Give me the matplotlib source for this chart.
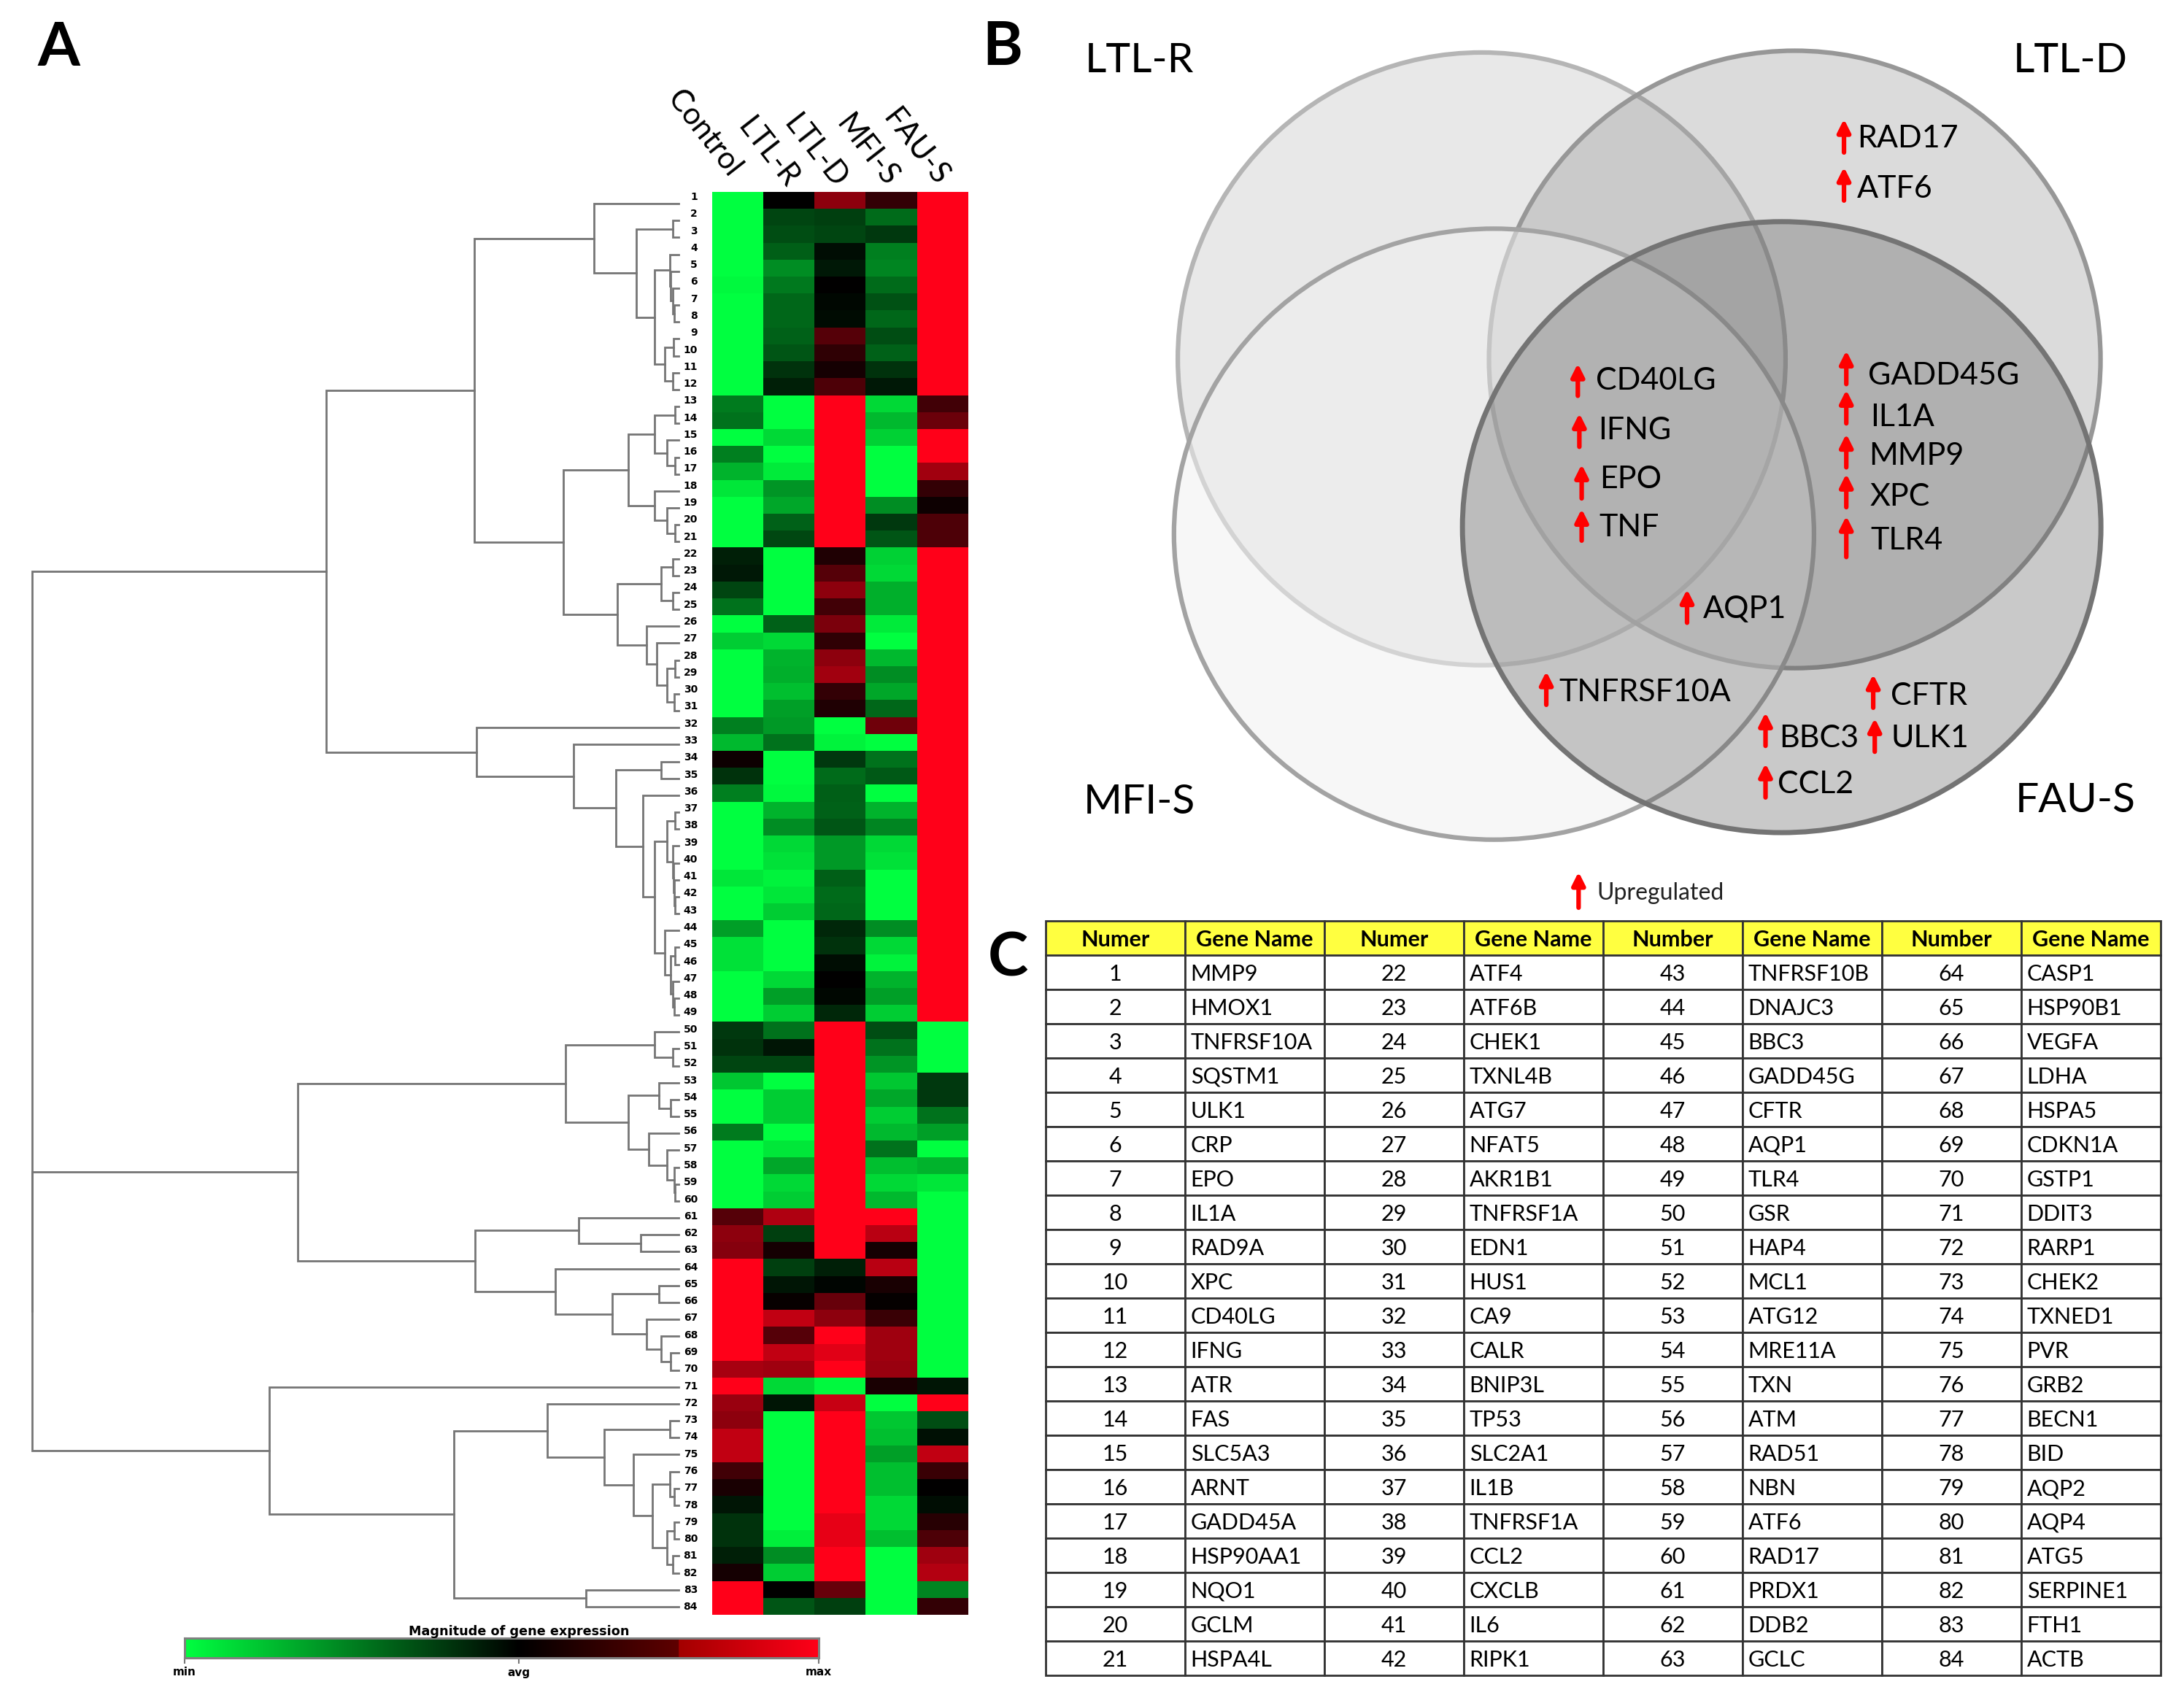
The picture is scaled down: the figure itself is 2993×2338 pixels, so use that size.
#!/usr/bin/env python3

import matplotlib
matplotlib.use("Agg")
import matplotlib.pyplot as plt
from matplotlib.colors import LinearSegmentedColormap
from matplotlib.patches import Ellipse
from matplotlib.table import Table
import numpy as np

plt.rcParams["font.family"] = ["Lato", "DejaVu Sans"]

W, H = 2993, 2338

# panel A, expression per gene (-1 = min, 0 = avg, 1 = max)
sample_names = ["Control", "LTL-R", "LTL-D", "MFI-S", "FAU-S"]
control = [-1, -1, -1, -1, -1, -.97, -1, -1, -1, -1, -1, -1,
           -.48, -.45, -1, -.5, -.7, -.9, -1, -1, -1, -.12, -.1,
           -.27, -.45, -1, -.8, -1, -1, -1, -1,
           -.5, -.72, .05, -.2, -.5, -1, -1, -1, -1, -.9, -1, -1, -.62, -.88, -.88, -1,
           -1, -1, -.22, -.2, -.27, -.78, -1, -1, -.48, -1, -1, -1, -1,
           .33, .55, .52, 1, 1, 1, 1, 1, 1, .65,
           1, .6, .55, .75, .75, .25, .1, -.08, -.2, -.2, -.12, .08, 1, 1]
ltl_r = [0, -.27, -.3, -.37, -.55, -.47, -.4, -.4, -.38, -.33, -.2, -.12,
         -1, -1, -.85, -1, -.92, -.58, -.65, -.38, -.28, -1, -1,
         -1, -1, -.38, -.85, -.7, -.68, -.75, -.62,
         -.6, -.45, -1, -1, -.97, -.7, -.55, -.85, -.88, -.95, -.9, -.8, -1, -1, -1, -.85,
         -.62, -.8, -.45, -.08, -.27, -1, -.8, -.8, -1, -.9, -.65, -.85, -.8,
         .68, -.25, .08, -.25, -.08, .03, .75, .33, .75, .62,
         -.85, -.08, -1, -1, -1, -1, -1, -1, -1, -.93, -.55, -.8, 0, -.33]
ltl_d = [.55, -.25, -.27, -.05, -.1, 0, -.03, -.04, .33, .18, .08, .3,
         1, 1, 1, 1, 1, 1, 1, 1, 1, .12, .33,
         .55, .25, .48, .18, .55, .63, .2, .12,
         -1, -.95, -.22, -.42, -.37, -.38, -.33, -.6, -.6, -.37, -.42, -.4, -.15, -.2, -.05, 0,
         -.03, -.15, 1, 1, 1, 1, 1, 1, 1, 1, 1, 1, 1,
         1, 1, 1, -.12, -.02, .4, .55, 1, .88, 1,
         -.97, .78, 1, 1, 1, 1, 1, 1, .9, .9, 1, 1, .4, -.25]
mfi_s = [.2, -.42, -.22, -.5, -.52, -.42, -.32, -.4, -.3, -.38, -.2, -.1,
         -.85, -.72, -.82, -1, -1, -1, -.55, -.22, -.33, -.82, -.85,
         -.68, -.68, -.92, -1, -.72, -.55, -.65, -.4,
         .43, -1, -.45, -.35, -1, -.7, -.52, -.85, -.88, -1, -1, -1, -.55, -.85, -.95, -.7,
         -.62, -.8, -.3, -.45, -.58, -.78, -.65, -.8, -.72, -.45, -.75, -.85, -.72,
         1, .72, .08, .72, .1, .02, .22, .62, .62, .6,
         .1, -1, -.78, -.75, -.62, -.75, -.75, -.85, -.85, -.75, -1, -1, -1, -1]
fau_s = [1, 1, 1, 1, 1, 1, 1, 1, 1, 1, 1, 1,
         .25, .42, 1, 1, .63, .2, .05, .3, .3, 1, 1,
         1, 1, 1, 1, 1, 1, 1, 1,
         1, 1, 1, 1, 1, 1, 1, 1, 1, 1, 1, 1, 1, 1, 1, 1,
         1, 1, -1, -1, -1, -.22, -.22, -.45, -.62, -1, -.7, -.9, -1,
         -1, -1, -1, -1, -1, -1, -1, -1, -1, -1,
         -.08, 1, -.3, -.07, .75, .22, 0, -.05, .15, .3, .62, .7, -.52, .2]

# dendrogram: (merge height, left, right), ints are gene numbers
group_a = (483,
           (280,
            (116, 1, (58, (8, 2, 3),
                      (33, (12, 4, (11, 5, (8, 6, (6, 7, 8)))),
                       (19, (7, 9, 10), (8, 11, 12))))),
            (158,
             (69,
              (33, (5, 13, 14), (16, 15, (5, 16, 17))),
              (33, 18, (16, 19, (5, 20, 21)))),
             (84,
              (24, (8, 22, 23), (8, 24, 25)),
              (44, 26, (30, 27, (16, (5, 28, 29), (6, 30, 31))))))),
           (277, 32,
            (144, 33,
             (86, (24, 34, 35),
              (49, 36,
               (33,
                (16, (5, 37, 38), (8, 39, (7, 40, (6, 41, (5, 42, 43))))),
                (19, 44, (11, (5, 45, 46), (8, 47, (6, 48, 49))))))))))
group_b = (522,
           (155,
            (33, 50, (8, 51, 52)),
            (69,
             (27, 53, (11, 54, 55)),
             (41, 56, (16, 57, (6, 58, (5, 59, 60)))))),
           (279,
            (137, 61, (52, 62, 63)),
            (169, 64,
             (91, (27, 65, 66),
              (44, 67, (24, 68, (11, 69, 70)))))))
group_c = (561, 71,
           (308,
            (180, 72,
             (102, (12, 73, 74),
              (62, 75,
               (36,
                (12, 76, (6, 77, 78)),
                (16, (6, 79, 80), (8, 81, 82)))))),
            (127, 83, 84)))
dendro_tree = (886, group_a, (886, group_b, group_c))

# panel B
venn_sets = ["LTL-R", "LTL-D", "MFI-S", "FAU-S"]
venn_genes = ["RAD17", "ATF6", "CD40LG", "IFNG", "EPO", "TNF", "GADD45G", "IL1A", "MMP9",
              "XPC", "TLR4", "AQP1", "TNFRSF10A", "CFTR", "BBC3", "ULK1", "CCL2"]

# panel C
table_head = ["Numer", "Gene Name", "Numer", "Gene Name", "Number", "Gene Name", "Number", "Gene Name"]
genes_1 = ["MMP9", "HMOX1", "TNFRSF10A", "SQSTM1", "ULK1", "CRP", "EPO", "IL1A", "RAD9A", "XPC", "CD40LG",
           "IFNG", "ATR", "FAS", "SLC5A3", "ARNT", "GADD45A", "HSP90AA1", "NQO1", "GCLM", "HSPA4L"]
genes_2 = ["ATF4", "ATF6B", "CHEK1", "TXNL4B", "ATG7", "NFAT5", "AKR1B1", "TNFRSF1A", "EDN1", "HUS1", "CA9",
           "CALR", "BNIP3L", "TP53", "SLC2A1", "IL1B", "TNFRSF1A", "CCL2", "CXCLB", "IL6", "RIPK1"]
genes_3 = ["TNFRSF10B", "DNAJC3", "BBC3", "GADD45G", "CFTR", "AQP1", "TLR4", "GSR", "HAP4", "MCL1", "ATG12",
           "MRE11A", "TXN", "ATM", "RAD51", "NBN", "ATF6", "RAD17", "PRDX1", "DDB2", "GCLC"]
genes_4 = ["CASP1", "HSP90B1", "VEGFA", "LDHA", "HSPA5", "CDKN1A", "GSTP1", "DDIT3", "RARP1", "CHEK2", "TXNED1",
           "PVR", "GRB2", "BECN1", "BID", "AQP2", "AQP4", "ATG5", "SERPINE1", "FTH1", "ACTB"]

# layout, pixels of the venn crop
set_label_xy = [(210, 98), (1420, 98), (210, 1362), (1427, 1360)]
venn_shapes = [((655, 612), 790, 1045), ((1062, 613), 795, 1053), ((671, 911), 832, 1042), ((1045, 899), 830, 1042)]
venn_faces = [(.55, .55, .55, .2), (.45, .45, .45, .25), (.94, .94, .94, .52), (.31, .31, .31, .3)]
venn_edges = ["#b5b5b5", "#979797", "#a3a3a3", "#747474"]
venn_widths = [4.5, 4.5, 4.5, 5]
gene_text_xy = [(1143, 232), (1143, 318), (803, 645), (806, 730), (808, 813), (808, 895), (1157, 636), (1160, 708),
                (1158, 774), (1160, 843), (1160, 918), (943, 1035), (755, 1177), (1187, 1183), (1042, 1255),
                (1187, 1255), (1040, 1333)]
gene_arrows = [(1126, 203, 260), (1126, 285, 342), (780, 620, 675), (782, 705, 762), (785, 792, 850), (785, 868, 922),
               (1129, 598, 655), (1129, 665, 722), (1129, 740, 797), (1129, 808, 865), (1129, 880, 950),
               (922, 1005, 1062), (739, 1145, 1202), (1164, 1150, 1207), (1024, 1215, 1272), (1166, 1225, 1282),
               (1024, 1302, 1360)]


def axes_px(fig, left, top, right, bottom):
    return fig.add_axes([left / W, 1 - bottom / H, (right - left) / W, (bottom - top) / H])


def draw_node(ax, node):
    if isinstance(node, int):
        return 0, node - 1
    h, a, b = node
    ha, ya = draw_node(ax, a)
    hb, yb = draw_node(ax, b)
    ax.plot([ha, h, h, hb], [ya, ya, yb, yb], color="#757575", lw=2.0, solid_joinstyle="miter")
    return h, (ya + yb) / 2


def up_arrow(ax, x, y0, y1, lw=4.5, size=26):
    ax.annotate("", xy=(x, y0), xytext=(x, y1),
                arrowprops=dict(arrowstyle="-|>", color="#FF0000", lw=lw, mutation_scale=size,
                                shrinkA=0, shrinkB=0))


fig = plt.figure(figsize=(W / 100, H / 100), dpi=100)

# full page overlay for loose text
page = axes_px(fig, 0, 0, W, H)
page.set_xlim(0, W)
page.set_ylim(H, 0)
page.axis("off")
page.text(80, 60, "A", fontsize=60, fontweight="bold", ha="center", va="center_baseline")
page.text(1381, 1307, "C", fontsize=60, fontweight="bold", ha="center", va="center_baseline")

# heat map
expr = np.array([control, ltl_r, ltl_d, mfi_s, fau_s]).T
heat_cmap = LinearSegmentedColormap.from_list("heat", ["#00FF40", "#000000", "#FF0019"])
ax = axes_px(fig, 976, 263, 1327, 2213)
ax.imshow(expr, aspect="auto", cmap=heat_cmap, vmin=-1, vmax=1, interpolation="nearest")
ax.axis("off")

head_xy = [(965, 183), (1052, 210), (1117, 208), (1188, 207), (1255, 202)]
for name, (x, y) in zip(sample_names, head_xy):
    page.text(x, y, name, fontsize=30, rotation=-52, ha="center", va="center", rotation_mode="anchor")

for i in range(len(control)):
    page.text(956, 270 + i * 23.28, str(i + 1), fontsize=10, fontweight="bold", family="DejaVu Sans",
              ha="right", va="center")

# dendrogram
pitch = (2202 - 279) / 83
ax = axes_px(fig, 44, 263, 930, 2213)
ax.set_xlim(886, 0)
ax.set_ylim((2213 - 279) / pitch, (263 - 279) / pitch)
ax.axis("off")
draw_node(ax, dendro_tree)
for line in ax.lines:
    line.set_clip_on(False)

# colour bar, black sits a little right of the middle
bar_cmap = LinearSegmentedColormap.from_list(
    "bar", [(0, "#00FF40"), (.527, "#000000"), (.78, "#5f0000"), (.78, "#a30000"), (1, "#FF0019")], N=512)
ax = axes_px(fig, 253, 2245, 1122, 2272)
ax.imshow(np.linspace(0, 1, 512)[None, :], aspect="auto", cmap=bar_cmap, extent=[0, 1, 0, 1])
ax.set_yticks([])
ax.set_xticks([0, .527, 1], ["min", "avg", "max"], fontsize=11, fontweight="bold", family="DejaVu Sans")
ax.tick_params(axis="x", length=6, width=1.5, color="#777777", pad=3)
for sp in ax.spines.values():
    sp.set_color("#808080")
    sp.set_linewidth(2.2)
ax.set_title("Magnitude of gene expression", fontsize=12.7, fontweight="bold", family="DejaVu Sans",
             x=.527, pad=1)

# venn
ax = axes_px(fig, 1340, 0, W, 1260)
ax.set_xlim(0, 1568)
ax.set_ylim(1568, 0)
ax.axis("off")
for (xy, w, h), face, edge, lw in zip(venn_shapes, venn_faces, venn_edges, venn_widths):
    ax.add_patch(Ellipse(xy, w, h, facecolor=face, edgecolor="none"))
    ax.add_patch(Ellipse(xy, w, h, facecolor="none", edgecolor=edge, lw=lw))
for name, (x, y) in zip(venn_sets, set_label_xy):
    ax.text(x, y, name, fontsize=41, ha="center", va="center_baseline")
for name, (x, y), (ax_x, y0, y1) in zip(venn_genes, gene_text_xy, gene_arrows):
    ax.text(x, y, name, fontsize=31, ha="left", va="center_baseline")
    up_arrow(ax, ax_x, y0, y1)
up_arrow(ax, 781, 1487, 1548)
ax.text(805, 1520, "Upregulated", fontsize=23, ha="left", va="center_baseline", color="#222222")
ax.text(32, 73, "B", fontsize=60, fontweight="bold", ha="center", va="center_baseline")

# table
ax = axes_px(fig, 1433, 1262, 2961, 2296)
ax.axis("off")
tbl = Table(ax, bbox=[0, 0, 1, 1])
gene_cols = [genes_1, genes_2, genes_3, genes_4]
n_rows = len(genes_1)
for j, name in enumerate(table_head):
    c = tbl.add_cell(0, j, 1 / 8, 1 / (n_rows + 1), text=name, loc="center", facecolor="#FFFF40")
    c.set_text_props(fontweight="bold")
for k, genes in enumerate(gene_cols):
    for i, gene in enumerate(genes):
        tbl.add_cell(i + 1, 2 * k, 1 / 8, 1 / (n_rows + 1), text=str(k * n_rows + i + 1), loc="center")
        c = tbl.add_cell(i + 1, 2 * k + 1, 1 / 8, 1 / (n_rows + 1), text=gene, loc="left")
        c.PAD = 0.04
tbl.auto_set_font_size(False)
tbl.set_fontsize(22)
for c in tbl.get_celld().values():
    c.set_edgecolor("#333333")
    c.set_linewidth(2.0)
    c.set_text_props(va="center_baseline")
ax.add_table(tbl)

plt.savefig("out.png", dpi=100)
plt.close()
